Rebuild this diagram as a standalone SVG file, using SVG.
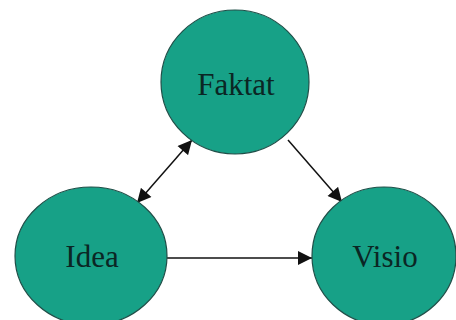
<svg xmlns="http://www.w3.org/2000/svg" width="456" height="320" viewBox="0 0 456 320">
<style>
.n{fill:#17a187;stroke:#1f4f48;stroke-width:1.2}
.t{font-family:"Liberation Serif",serif;font-size:31px;fill:#0b2624;text-anchor:middle}
.c{stroke:#111;stroke-width:1.5;fill:none}
</style>
<defs>
<marker id="ah" viewBox="0 0 10 10" refX="10" refY="5" markerWidth="15" markerHeight="14" markerUnits="userSpaceOnUse" orient="auto-start-reverse">
<path d="M0,0 L10,5 L0,10 z" fill="#111"/>
</marker>
</defs>
<rect width="456" height="320" fill="#fff"/>
<g id="connectors">
<line class="c" x1="137" y1="203" x2="192" y2="140" marker-start="url(#ah)" marker-end="url(#ah)"/>
<line class="c" x1="288" y1="140" x2="342" y2="202" marker-end="url(#ah)"/>
<line class="c" x1="167" y1="258" x2="312" y2="258" marker-end="url(#ah)"/>
</g>
<g id="faktat">
<ellipse class="n" cx="235" cy="82" rx="74" ry="72"/>
<text class="t" x="236" y="95">Faktat</text>
</g>
<g id="idea">
<ellipse class="n" cx="91" cy="256" rx="76" ry="69"/>
<text class="t" x="92" y="267">Idea</text>
</g>
<g id="visio">
<ellipse class="n" cx="384" cy="256" rx="72" ry="69"/>
<text class="t" x="385" y="267">Visio</text>
</g>
</svg>
